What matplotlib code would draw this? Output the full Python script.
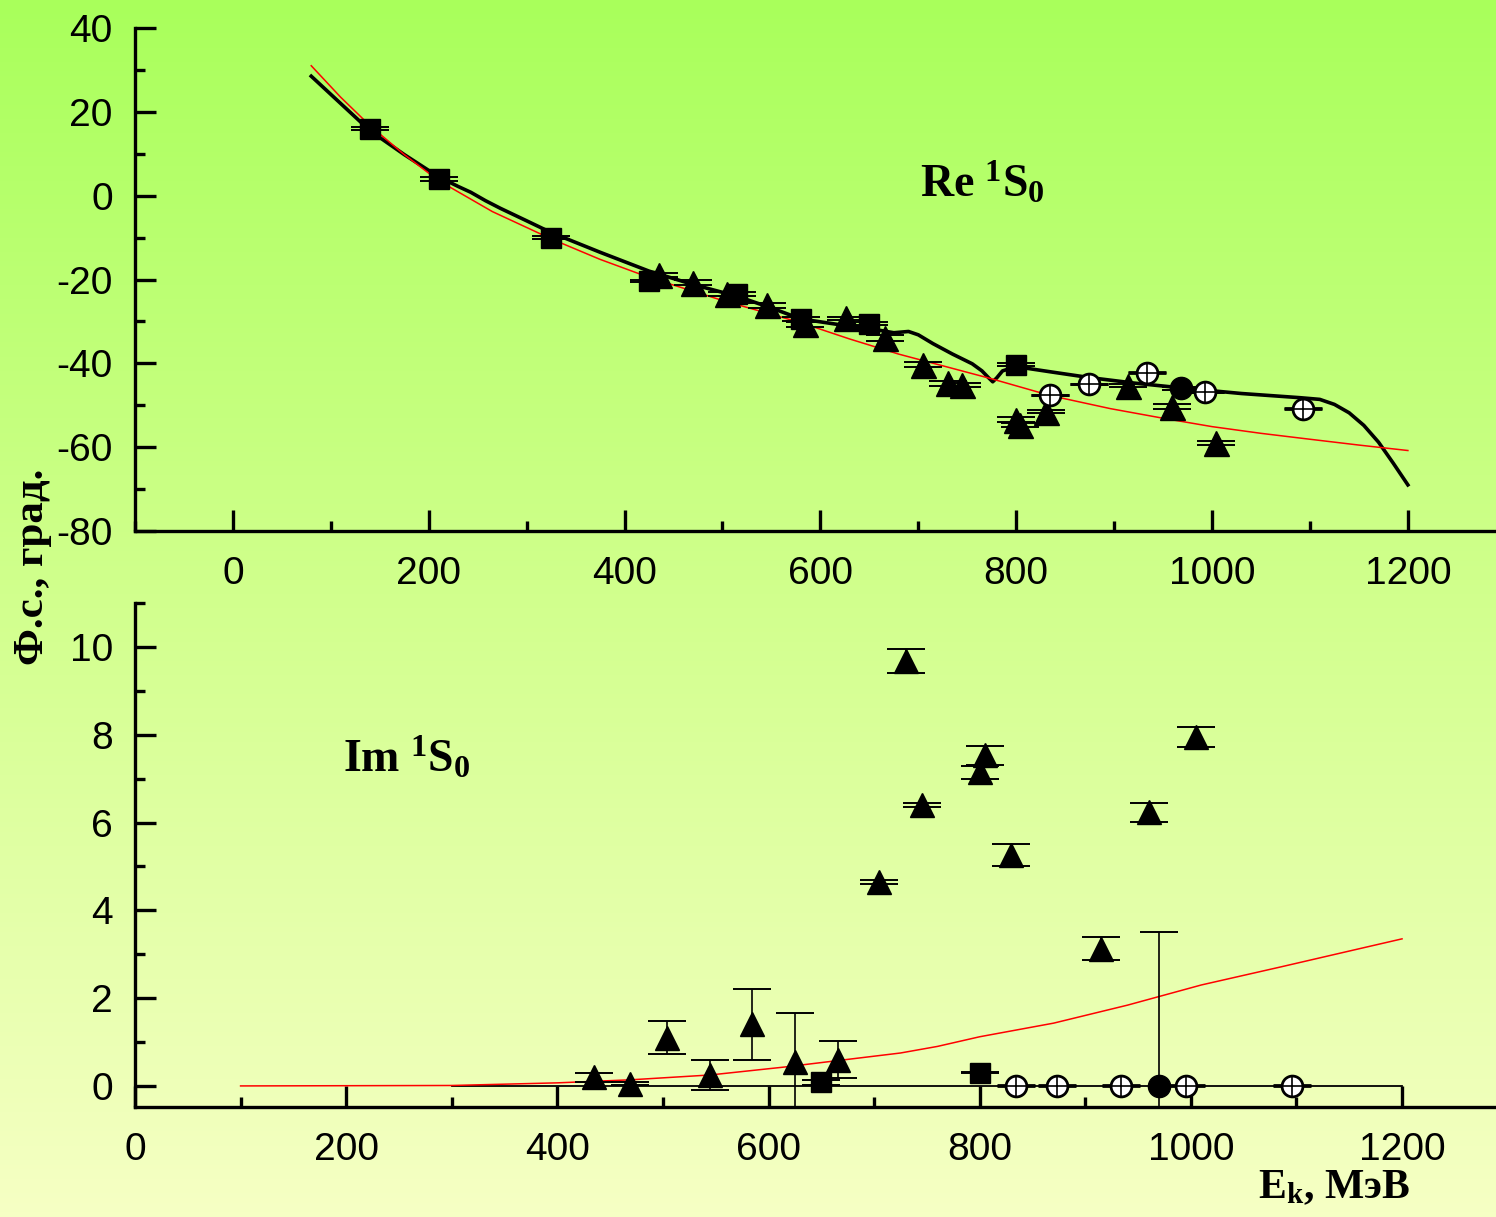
import numpy as np
import matplotlib.pyplot as plt
from matplotlib.colors import LinearSegmentedColormap
from matplotlib.ticker import MultipleLocator

plt.rcParams['font.family'] = ['Liberation Sans', 'DejaVu Sans']
plt.rcParams['axes.unicode_minus'] = False
plt.rcParams['mathtext.fontset'] = 'custom'
plt.rcParams['mathtext.rm'] = 'Liberation Serif'
plt.rcParams['mathtext.bf'] = 'Liberation Serif:bold'
plt.rcParams['mathtext.it'] = 'Liberation Serif:italic'

# ---- Re 1S0 (top) ----
re_sq_x = [140, 210, 325, 425, 515, 580, 650, 800]
re_sq_y = [16, 4, -10, -20.3, -23.5, -29.5, -30.5, -40.3]
re_sq_err = [0.4, 0.4, 0.4, 0.3, 0.4, 0.5, 0.4, 0.4]

re_tri_x = [435, 470, 505, 545, 584, 626, 666, 705, 730, 745, 800, 804, 830, 914, 959, 1004]
re_tri_y = [-19, -20.8, -23.5, -26.2, -30.7, -29.3, -34, -40.3, -44.7, -45.1,
            -53.5, -54.8, -51.5, -45.3, -50.3, -59]
re_tri_err = [0.5, 0.6, 0.5, 0.5, 0.6, 0.4, 0.7, 0.5, 0.6, 0.5, 0.6, 0.5, 0.4, 0.4, 0.6, 0.4]

re_oc_x = [835, 874, 934, 993, 1093]
re_oc_y = [-47.5, -44.9, -42.2, -46.8, -50.8]
re_fc_x = [968]
re_fc_y = [-46]

re_red_x = [80, 110, 140, 175, 210, 265, 325, 375, 425, 500, 580, 630, 680, 730, 775,
            835, 896, 950, 1000, 1050, 1096, 1150, 1200]
re_red_y = [31, 23.5, 16.7, 9.8, 3.6, -3.8, -10.3, -15.2, -19.5, -25, -30.3, -34.2, -37.8,
            -40.9, -43.7, -47.7, -50.8, -53.1, -55.1, -56.7, -58, -59.5, -60.8]

re_blk_x = [80, 110, 140, 175, 210, 230, 243, 258, 273, 300, 325, 375, 425, 470, 515, 550,
            580, 620, 650, 675, 690, 700, 715, 735, 755, 765, 772, 776, 780, 786, 800, 840,
            875, 920, 966, 1030, 1090, 1110, 1125, 1140, 1155, 1170, 1185, 1200]
re_blk_y = [28.5, 22, 15.5, 9.8, 4.5, 2.2, 0.8, -1.2, -3, -6, -8.8, -13.5, -18, -21.2, -24,
            -26.8, -29.4, -30.8, -31.7, -32.7, -32.4, -33.2, -35.3, -37.8, -40.1, -41.8,
            -43.5, -44.4, -43.5, -41.8, -40.8, -42.2, -43.4, -44.7, -45.8, -47.2, -48.2,
            -48.6, -49.8, -51.8, -54.8, -58.8, -63.8, -69]

# ---- Im 1S0 (bottom) ----
im_tri_x = [435, 469, 504, 545, 584, 625, 666, 705, 730, 745, 800, 805, 830, 915, 960, 1005]
im_tri_y = [0.2, 0.05, 1.1, 0.25, 1.4, 0.55, 0.6, 4.65, 9.68, 6.4, 7.14, 7.53, 5.26, 3.13, 6.23, 7.95]
im_tri_err = [0.1, 0.04, 0.38, 0.35, 0.8, 1.1, 0.42, 0.04, 0.28, 0.04, 0.15, 0.22, 0.25, 0.26, 0.22, 0.23]

im_sq_x = [650, 800]
im_sq_y = [0.08, 0.3]
im_sq_err = [0.05, 0.01]

im_oc_x = [834, 873, 934, 995, 1096]
im_oc_y = [0, 0, 0, 0, 0]
im_fc_x = [970]
im_fc_y = [0]
im_fc_err = [3.5]

im_zero_x = [300, 1200]
im_zero_y = [0, 0]

im_red_x = [100, 300, 400, 470, 545, 615, 670, 725, 760, 800, 870, 940, 1010, 1085, 1155, 1200]
im_red_y = [0, 0.01, 0.07, 0.14, 0.25, 0.43, 0.59, 0.75, 0.9, 1.12, 1.43, 1.84, 2.3, 2.71, 3.1, 3.35]

W, H = 1496, 1217
fig = plt.figure(figsize=(W / 100, H / 100), dpi=100)

# gradient background
bg = fig.add_axes([0, 0, 1, 1], zorder=-10)
cmap = LinearSegmentedColormap.from_list('bg', ['#a9ff5b', '#d2ff8e', '#f6ffc4'])
bg.imshow(np.linspace(0, 1, 256).reshape(-1, 1), aspect='auto', cmap=cmap,
          extent=[0, 1, 0, 1])
bg.axis('off')

ax1 = fig.add_axes([135 / W, 1 - 531 / H, 1 - 135 / W, 503 / H])
ax2 = fig.add_axes([135 / W, 1 - 1107 / H, 1 - 135 / W, 504 / H])

for ax in (ax1, ax2):
    ax.set_facecolor('none')
    for s in ('top', 'right'):
        ax.spines[s].set_visible(False)
    for s in ('left', 'bottom'):
        ax.spines[s].set_linewidth(2.4)
    ax.tick_params(which='both', direction='in', width=2.4, labelsize=28, colors='black')
    ax.tick_params(which='major', length=15)
    ax.tick_params(which='minor', length=7.5)
    ax.tick_params(axis='y', pad=16)
    ax.tick_params(axis='x', pad=18)
    ax.xaxis.set_major_locator(MultipleLocator(200))
    ax.xaxis.set_minor_locator(MultipleLocator(100))

ebkw = dict(ls='none', ecolor='black', elinewidth=1.2, capthick=1.4, capsize=14)

# top panel
ax1.plot(re_blk_x, re_blk_y, color='black', lw=2.6, zorder=2)
ax1.plot(re_red_x, re_red_y, color='red', lw=1.1, zorder=3)
ax1.errorbar(re_sq_x, re_sq_y, yerr=re_sq_err, marker='s', ms=15, mfc='black', mec='black', zorder=4, **ebkw)
ax1.errorbar(re_tri_x, re_tri_y, yerr=re_tri_err, marker='^', ms=18, mfc='black', mec='black', zorder=4, **ebkw)
ax1.errorbar(re_oc_x, re_oc_y, yerr=0.05, marker='o', ms=15, mfc='white', mec='black', mew=2, zorder=5, **ebkw)
ax1.plot(re_oc_x, re_oc_y, ls='none', marker='+', ms=15, mec='black', mew=1.2, zorder=6)
ax1.errorbar(re_fc_x, re_fc_y, yerr=0.3, marker='o', ms=16, mfc='black', mec='black', zorder=5, **ebkw)
ax1.set_xlim(-100, 1290)
ax1.set_ylim(-80, 40)
ax1.yaxis.set_major_locator(MultipleLocator(20))
ax1.yaxis.set_minor_locator(MultipleLocator(10))
ax1.set_xticks([0, 200, 400, 600, 800, 1000, 1200])
ax1.text(0.577, 0.664, r'$\mathbf{Re\ ^{1}S_{0}}$', transform=ax1.transAxes,
         fontsize=33, va='baseline')

# bottom panel
ax2.plot(im_zero_x, im_zero_y, color='black', lw=1.3, zorder=2)
ax2.plot(im_red_x, im_red_y, color='red', lw=1.1, zorder=3)
ax2.errorbar(im_tri_x, im_tri_y, yerr=im_tri_err, marker='^', ms=17, mfc='black', mec='black', zorder=4, **ebkw)
ax2.errorbar(im_sq_x, im_sq_y, yerr=im_sq_err, marker='s', ms=14, mfc='black', mec='black', zorder=4, **ebkw)
ax2.errorbar(im_oc_x, im_oc_y, yerr=0.01, marker='o', ms=15, mfc='white', mec='black', mew=2, zorder=5, **ebkw)
ax2.plot(im_oc_x, im_oc_y, ls='none', marker='+', ms=15, mec='black', mew=1.2, zorder=6)
ax2.errorbar(im_fc_x, im_fc_y, yerr=im_fc_err, marker='o', ms=16, mfc='black', mec='black', zorder=5, **ebkw)
ax2.set_xlim(0, 1289)
ax2.set_ylim(-0.48, 11)
ax2.yaxis.set_major_locator(MultipleLocator(2))
ax2.yaxis.set_minor_locator(MultipleLocator(1))
ax2.set_xticks([0, 200, 400, 600, 800, 1000, 1200])
ax2.set_yticks([0, 2, 4, 6, 8, 10])
ax2.text(0.153, 0.665, r'$\mathbf{Im\ ^{1}S_{0}}$', transform=ax2.transAxes,
         fontsize=33, va='baseline')

fig.text(33 / W, 1 - 567 / H, 'Ф.с., град.', rotation=90, ha='center', va='center',
         fontsize=31, fontweight='bold', family='Liberation Serif')
fig.text(1410 / W, 1 - 1188 / H, r'$\mathbf{E_k}$, МэВ', ha='right', va='center',
         fontsize=30, fontweight='bold', family='Liberation Serif')

fig.savefig('out.png', dpi=100)
